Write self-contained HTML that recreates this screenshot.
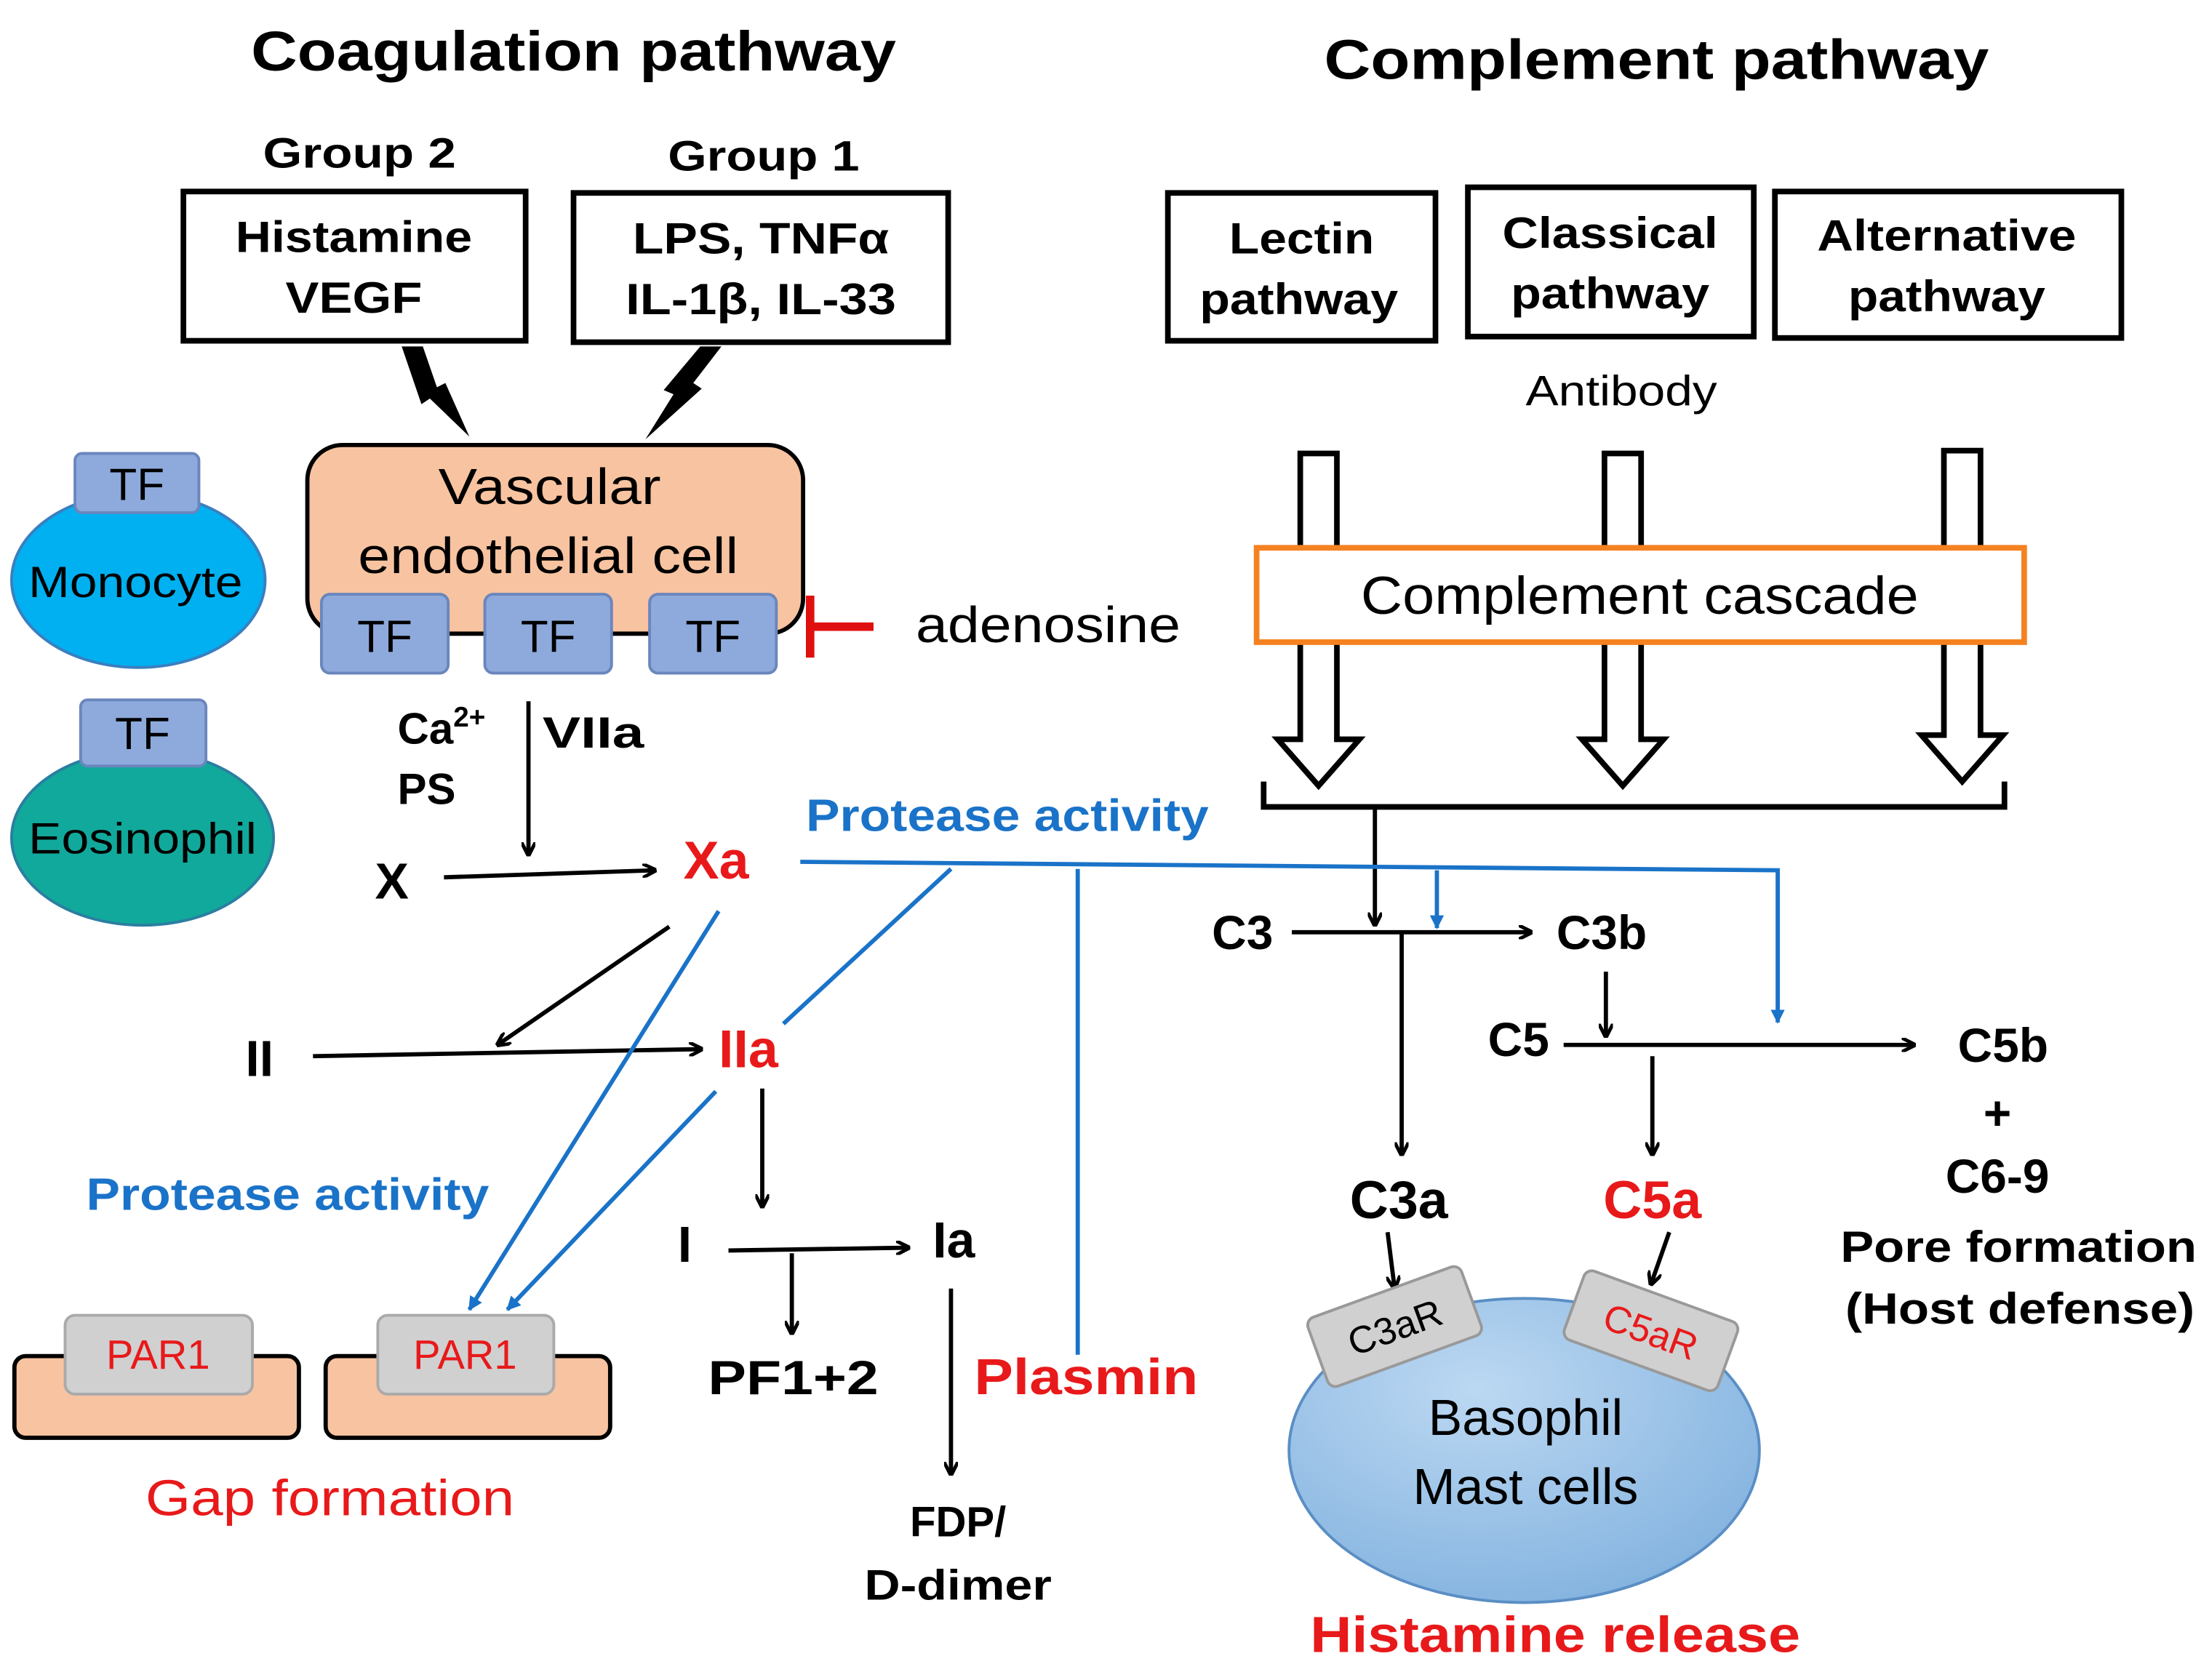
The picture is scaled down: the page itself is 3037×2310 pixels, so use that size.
<!DOCTYPE html>
<html><head><meta charset="utf-8"><style>html,body{margin:0;padding:0;background:#fff}svg{display:block}</style></head><body>
<svg width="3037" height="2310" viewBox="0 0 1568 1193" xmlns="http://www.w3.org/2000/svg" font-family="Liberation Sans, sans-serif">
<defs>
<marker id="a" markerWidth="10" markerHeight="10" refX="9" refY="5" orient="auto" markerUnits="userSpaceOnUse"><path d="M0,0 L10,5 L0,10" fill="none" stroke="#000" stroke-width="2.5"/></marker>
<marker id="b" markerWidth="10" markerHeight="10" refX="9" refY="5" orient="auto" markerUnits="userSpaceOnUse"><path d="M0,0 L10,5 L0,10 z" fill="#1a73c8"/></marker>
<radialGradient id="g" cx="0.4" cy="0.3" r="0.8"><stop offset="0" stop-color="#bcd8f2"/><stop offset="1" stop-color="#7fb0de"/></radialGradient>
</defs>
<g font-weight="bold" text-anchor="middle" fill="#000" lengthAdjust="spacingAndGlyphs">
<text x="407" y="50" font-size="40" textLength="458" lengthAdjust="spacingAndGlyphs">Coagulation pathway</text>
<text x="1176" y="56" font-size="40" textLength="472" lengthAdjust="spacingAndGlyphs">Complement pathway</text>
<text x="255" y="119" font-size="30" textLength="137" lengthAdjust="spacingAndGlyphs">Group 2</text>
<text x="542" y="121" font-size="30" textLength="136" lengthAdjust="spacingAndGlyphs">Group 1</text>
</g>
<g fill="#fff" stroke="#000" stroke-width="4">
<rect x="130" y="136" width="243" height="106"/>
<rect x="407" y="137" width="266" height="106"/>
<rect x="829" y="137" width="190" height="105"/>
<rect x="1042" y="133" width="203" height="106"/>
<rect x="1260" y="136" width="246" height="104"/>
</g>
<g font-weight="bold" text-anchor="middle" font-size="31">
<text x="251" y="179" textLength="168" lengthAdjust="spacingAndGlyphs">Histamine</text><text x="251" y="222" textLength="97" lengthAdjust="spacingAndGlyphs">VEGF</text>
<text x="540" y="180" textLength="182" lengthAdjust="spacingAndGlyphs">LPS, TNFα</text><text x="540" y="223" textLength="192" lengthAdjust="spacingAndGlyphs">IL-1β, IL-33</text>
<text x="924" y="180" textLength="103" lengthAdjust="spacingAndGlyphs">Lectin</text><text x="922" y="223" textLength="141" lengthAdjust="spacingAndGlyphs">pathway</text>
<text x="1143" y="176" textLength="153" lengthAdjust="spacingAndGlyphs">Classical</text><text x="1143" y="219" textLength="141" lengthAdjust="spacingAndGlyphs">pathway</text>
<text x="1382" y="178" textLength="184" lengthAdjust="spacingAndGlyphs">Alternative</text><text x="1382" y="221" textLength="140" lengthAdjust="spacingAndGlyphs">pathway</text>
</g>
<text x="1151" y="288" font-size="30" text-anchor="middle" textLength="136" lengthAdjust="spacingAndGlyphs">Antibody</text>
<path d="M285,246 L300,246 L310,275 L316,272 L333,310 L305,283 L299,287 Z" fill="#000"/>
<path d="M497,246 L512,246 L492,272 L498,276 L458,312 L478,280 L471,277 Z" fill="#000"/>
<rect x="218" y="316" width="352" height="134" rx="25" fill="#f8c3a0" stroke="#000" stroke-width="3"/>
<text x="390" y="358" font-size="36" text-anchor="middle" textLength="158" lengthAdjust="spacingAndGlyphs">Vascular</text>
<text x="389" y="407" font-size="36" text-anchor="middle" textLength="270" lengthAdjust="spacingAndGlyphs">endothelial cell</text>
<g fill="#8eaadc" stroke="#6a86bd" stroke-width="2">
<rect x="228" y="422" width="90" height="56" rx="6"/><rect x="344" y="422" width="90" height="56" rx="6"/><rect x="461" y="422" width="90" height="56" rx="6"/>
</g>
<ellipse cx="98" cy="412" rx="90" ry="62" fill="#00b0f0" stroke="#3a7fc0" stroke-width="2"/>
<rect x="53" y="322" width="88" height="42" rx="5" fill="#8eaadc" stroke="#6a86bd" stroke-width="2"/>
<ellipse cx="101" cy="595" rx="93" ry="62" fill="#11a99b" stroke="#2a7fa0" stroke-width="2"/>
<rect x="57" y="497" width="89" height="47" rx="5" fill="#8eaadc" stroke="#6a86bd" stroke-width="2"/>
<g font-size="32" text-anchor="middle">
<text x="273" y="463">TF</text><text x="389" y="463">TF</text><text x="506" y="463">TF</text>
<text x="97" y="355">TF</text><text x="101" y="532">TF</text>
<text x="96" y="424" font-size="31" textLength="152" lengthAdjust="spacingAndGlyphs">Monocyte</text><text x="101" y="606" font-size="31" textLength="162" lengthAdjust="spacingAndGlyphs">Eosinophil</text>
</g>
<path d="M575,423 V467 M575,445 H620" stroke="#e01010" stroke-width="6" fill="none"/>
<text x="650" y="456" font-size="36" textLength="188" lengthAdjust="spacingAndGlyphs">adenosine</text>
<g font-weight="bold" font-size="31">
<text x="282" y="528">Ca<tspan font-size="20" dy="-12">2+</tspan></text>
<text x="282" y="571">PS</text>
<text x="385" y="531" textLength="72" lengthAdjust="spacingAndGlyphs">VIIa</text>
<text x="266" y="638" font-size="36">X</text>
<text x="485" y="624" font-size="38" fill="#e8191a">Xa</text>
<text x="174" y="764" font-size="36">II</text>
<text x="510" y="758" font-size="38" fill="#e8191a">IIa</text>
<text x="481" y="896" font-size="36">I</text>
<text x="662" y="893" font-size="36">Ia</text>
<text x="563" y="990" font-size="34" text-anchor="middle" textLength="121" lengthAdjust="spacingAndGlyphs">PF1+2</text>
<text x="771" y="990" font-size="36" text-anchor="middle" fill="#e8191a" textLength="159" lengthAdjust="spacingAndGlyphs">Plasmin</text>
<text x="680" y="1091" font-size="30" text-anchor="middle">FDP/</text>
<text x="680" y="1136" font-size="30" text-anchor="middle" textLength="133" lengthAdjust="spacingAndGlyphs">D-dimer</text>
</g>
<g fill="#1a73c8" font-weight="bold" font-size="32" text-anchor="middle">
<text x="715" y="590" textLength="286" lengthAdjust="spacingAndGlyphs">Protease activity</text>
<text x="204" y="859" textLength="286" lengthAdjust="spacingAndGlyphs">Protease activity</text>
</g>
<g stroke="#000" stroke-width="3" fill="none" marker-end="url(#a)">
<line x1="375" y1="498" x2="375" y2="607"/>
<line x1="315" y1="623" x2="465" y2="618"/>
<line x1="475" y1="658" x2="353" y2="742"/>
<line x1="222" y1="750" x2="498" y2="745"/>
<line x1="541" y1="773" x2="541" y2="857"/>
<line x1="517" y1="888" x2="645" y2="886"/>
<line x1="562" y1="890" x2="562" y2="947"/>
<line x1="675" y1="915" x2="675" y2="1047"/>
<line x1="976" y1="573" x2="976" y2="657"/>
<line x1="917" y1="662" x2="1087" y2="662"/>
<line x1="995" y1="662" x2="995" y2="820"/>
<line x1="1140" y1="690" x2="1140" y2="736"/>
<line x1="1110" y1="742" x2="1359" y2="742"/>
<line x1="1173" y1="750" x2="1173" y2="820"/>
<line x1="985" y1="875" x2="990" y2="915"/>
<line x1="1185" y1="875" x2="1172" y2="912"/>
</g>
<g stroke="#1a73c8" stroke-width="3" fill="none">
<polyline points="568,612 1262,618 1262,726" marker-end="url(#b)"/>
<line x1="1020" y1="618" x2="1020" y2="659" marker-end="url(#b)"/>
<line x1="675" y1="617" x2="556" y2="727"/>
<line x1="765" y1="617" x2="765" y2="962"/>
<line x1="510" y1="647" x2="333" y2="930" marker-end="url(#b)"/>
<line x1="508" y1="775" x2="360" y2="930" marker-end="url(#b)"/>
</g>
<g fill="#f8c3a0" stroke="#000" stroke-width="3">
<rect x="10" y="963" width="202" height="58" rx="8"/><rect x="231" y="963" width="202" height="58" rx="8"/>
</g>
<g fill="#d0d0d0" stroke="#aaa" stroke-width="2">
<rect x="46" y="934" width="133" height="56" rx="7"/><rect x="268" y="934" width="125" height="56" rx="7"/>
</g>
<g fill="#e8191a" font-size="29" text-anchor="middle">
<text x="112" y="972">PAR1</text><text x="330" y="972">PAR1</text>
<text x="234" y="1076" font-size="36" textLength="262" lengthAdjust="spacingAndGlyphs">Gap formation</text>
</g>
<g fill="#fff" stroke="#000" stroke-width="4">
<path d="M923,322 H949 V525 H965 L936,558 L907,525 H923 Z"/>
<path d="M1139,322 H1165 V525 H1181 L1152,558 L1123,525 H1139 Z"/>
<path d="M1380,320 H1406 V522 H1422 L1393,555 L1364,522 H1380 Z"/>
</g>
<rect x="892" y="389" width="545" height="67" fill="#fff" stroke="#f58220" stroke-width="4"/>
<text x="1164" y="436" font-size="38" text-anchor="middle" textLength="396" lengthAdjust="spacingAndGlyphs">Complement cascade</text>
<path d="M897,555 V573 H1423 V555" fill="none" stroke="#000" stroke-width="4"/>
<g font-weight="bold" font-size="34" text-anchor="middle">
<text x="882" y="674">C3</text><text x="1137" y="674">C3b</text>
<text x="1078" y="750">C5</text><text x="1422" y="754">C5b</text>
<text x="1418" y="802">+</text><text x="1418" y="847">C6-9</text>
<text x="1433" y="896" font-size="31" textLength="253" lengthAdjust="spacingAndGlyphs">Pore formation</text>
<text x="1434" y="940" font-size="31" textLength="248" lengthAdjust="spacingAndGlyphs">(Host defense)</text>
<text x="993" y="865" font-size="38">C3a</text>
<text x="1173" y="865" font-size="38" fill="#e8191a">C5a</text>
<text x="1104" y="1173" font-size="36" fill="#e8191a" textLength="348" lengthAdjust="spacingAndGlyphs">Histamine release</text>
</g>
<ellipse cx="1082" cy="1030" rx="167" ry="108" fill="url(#g)" stroke="#5a8ec4" stroke-width="2"/>
<text x="1083" y="1019" font-size="36" text-anchor="middle">Basophil</text>
<text x="1083" y="1068" font-size="36" text-anchor="middle">Mast cells</text>
<g transform="translate(990,942) rotate(-20)"><rect x="-58" y="-26" width="116" height="52" rx="6" fill="#d0d0d0" stroke="#999" stroke-width="2"/><text y="10" font-size="27" text-anchor="middle">C3aR</text></g>
<g transform="translate(1172,945) rotate(20)"><rect x="-58" y="-26" width="116" height="52" rx="6" fill="#d0d0d0" stroke="#999" stroke-width="2"/><text y="10" font-size="27" text-anchor="middle" fill="#e8191a">C5aR</text></g>
</svg>
</body></html>
